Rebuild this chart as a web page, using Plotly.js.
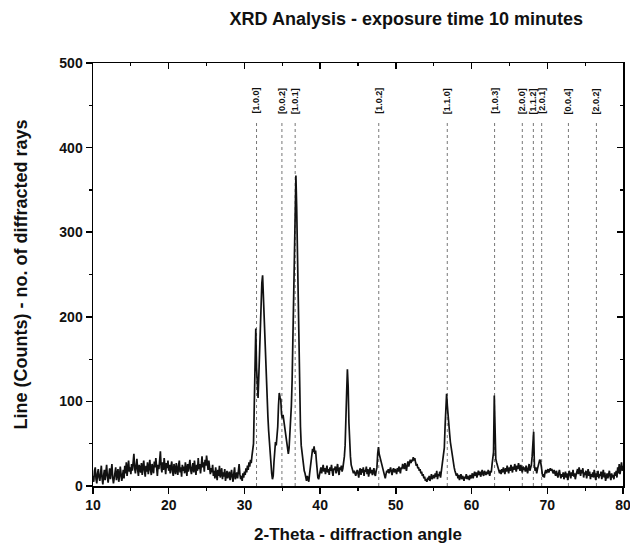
<!DOCTYPE html>
<html>
<head>
<meta charset="utf-8">
<script src="https://cdn.plot.ly/plotly-3.0.1.min.js"></script>
<style>html,body{margin:0;padding:0;background:#fff;}#chart{width:630px;height:552px;}</style>
</head>
<body>
<div id="chart"></div>
<script>
// Scan grid: 2-theta from 10.0 to 80.0 in 0.1 degree steps
var scanStart = 10.0;
var scanStep = 0.1;

// Counts, one row per degree (d.0 ... d.9)
var counts = [
  12, 5, 18, 22, 8, 3, 15, 20, 10, 6,          // 10
  14, 24, 9, 2, 12, 19, 7, 16, 25, 11,         // 11
  4, 13, 21, 8, 17, 26, 10, 3, 9, 18,          // 12
  22, 7, 14, 20, 5, 11, 23, 16, 6, 12,         // 13
  19, 9, 24, 15, 28, 12, 20, 30, 17, 22,       // 14
  14, 26, 18, 29, 38, 21, 15, 24, 32, 19,      // 15
  12, 25, 20, 16, 27, 13, 22, 30, 18, 11,      // 16
  24, 17, 28, 14, 21, 31, 19, 13, 26, 20,      // 17
  15, 29, 22, 33, 18, 12, 25, 20, 30, 41,      // 18
  22, 16, 28, 19, 33, 24, 14, 27, 21, 30,      // 19
  18, 25, 15, 23, 29, 17, 12, 26, 20, 14,      // 20
  27, 19, 13, 24, 30, 16, 22, 11, 25, 18,      // 21
  23, 15, 28, 20, 12, 26, 17, 24, 31, 19,      // 22
  14, 22, 27, 16, 30, 21, 13, 25, 18, 33,      // 23
  20, 26, 15, 24, 35, 22, 28, 17, 31, 24,      // 24
  36, 27, 19, 30, 23, 14, 21, 16, 25, 12,      // 25
  18, 9, 22, 14, 7, 19, 12, 24, 10, 15,        // 26
  21, 8, 16, 11, 20, 6, 14, 18, 9, 13,         // 27
  17, 7, 12, 19, 10, 5, 15, 22, 8, 11,         // 28
  16, 9, 18, 26, 14, 8, 12, 6, 15, 10,         // 29
  17, 13, 21, 16, 24, 19, 28, 23, 31, 27,      // 30
  36, 42, 50, 95, 150, 186, 140, 110, 104, 130,   // 31
  165, 200, 228, 240, 249, 225, 190, 160, 135, 115, // 32
  100, 82, 65, 50, 38, 28, 15, 8, 12, 28,      // 33
  45, 52, 48, 60, 70, 95, 110, 105, 102, 85,   // 34
  80, 84, 78, 72, 66, 60, 55, 46, 38, 45,      // 35
  58, 75, 95, 125, 175, 245, 300, 345, 367, 330, // 36
  270, 200, 140, 105, 70, 48, 38, 28, 22, 18,  // 37
  15, 10, 6, 12, 8, 5, 14, 22, 30, 36,         // 38
  44, 40, 47, 38, 42, 30, 18, 10, 8, 14,       // 39
  18, 22, 15, 20, 25, 17, 21, 14, 19, 24,      // 40
  16, 20, 13, 22, 18, 25, 17, 12, 21, 19,      // 41
  23, 15, 20, 26, 18, 13, 22, 19, 24, 17,      // 42
  21, 26, 35, 48, 70, 110, 138, 118, 75, 48,   // 43
  35, 25, 22, 20, 15, 18, 14, 12, 16, 19,      // 44
  15, 10, 18, 21, 13, 20, 16, 22, 12, 19,      // 45
  17, 23, 14, 20, 11, 18, 22, 15, 19, 13,      // 46
  16, 21, 14, 12, 18, 22, 38, 46, 38, 34,      // 47
  30, 27, 22, 18, 14, 11, 9, 14, 18, 16,       // 48
  20, 15, 18, 22, 17, 13, 19, 21, 16, 20,      // 49
  18, 14, 21, 17, 23, 19, 15, 22, 20, 26,      // 50
  24, 20, 27, 22, 18, 25, 29, 23, 27, 31,      // 51
  27, 31, 29, 34, 30, 33, 28, 24, 26, 21,      // 52
  22, 18, 20, 15, 17, 12, 14, 9, 11, 6,        // 53
  8, 5, 10, 7, 12, 6, 9, 14, 8, 11,            // 54
  13, 9, 15, 11, 18, 8, 14, 12, 17, 10,        // 55
  16, 22, 28, 34, 45, 70, 100, 109, 95, 80,    // 56
  76, 62, 52, 45, 38, 30, 24, 22, 18, 16,      // 57
  12, 15, 9, 13, 7, 11, 14, 8, 12, 10,         // 58
  6, 11, 9, 14, 8, 12, 10, 7, 13, 9,           // 59
  11, 15, 9, 13, 17, 12, 16, 10, 14, 18,       // 60
  13, 17, 11, 15, 19, 14, 12, 18, 16, 13,      // 61
  17, 14, 19, 15, 12, 18, 16, 25, 30, 40,      // 62
  107, 38, 32, 28, 24, 20, 18, 15, 19, 14,     // 63
  20, 16, 22, 18, 14, 21, 17, 24, 19, 15,      // 64
  22, 18, 25, 20, 16, 23, 19, 26, 21, 17,      // 65
  24, 20, 27, 22, 18, 25, 21, 16, 23, 19,      // 66
  22, 17, 24, 20, 15, 21, 26, 18, 22, 25,      // 67
  35, 50, 64, 24, 18, 22, 15, 20, 24, 26,      // 68
  31, 30, 22, 16, 11, 14, 10, 16, 19, 15,      // 69
  17, 20, 16, 19, 21, 18, 20, 17, 15, 19,      // 70
  16, 12, 18, 14, 10, 15, 19, 13, 9, 14,       // 71
  11, 16, 8, 13, 17, 10, 15, 7, 12, 18,        // 72
  14, 9, 16, 12, 19, 11, 15, 8, 13, 17,        // 73
  20, 14, 22, 17, 12, 19, 15, 21, 10, 16,      // 74
  13, 18, 9, 15, 20, 12, 17, 8, 14, 11,        // 75
  16, 10, 19, 13, 7, 15, 11, 18, 9, 14,        // 76
  12, 17, 8, 14, 19, 10, 16, 6, 12, 15,        // 77
  9, 14, 18, 11, 7, 15, 10, 13, 8, 16,         // 78
  12, 18, 10, 22, 15, 26, 14, 20, 28, 18,      // 79
  24                                           // 80.0
];

// Reference reflections (Miller indices) and their 2-theta positions
var peakLabels = ["[1.0.0]", "[0.0.2]", "[1.0.1]", "[1.0.2]", "[1.1.0]", "[1.0.3]",
                  "[2.0.0]", "[1.1.2]", "[2.0.1]", "[0.0.4]", "[2.0.2]"];
var peakPositions = [31.6, 34.95, 36.7, 47.74, 56.79, 63.04, 66.7, 68.16, 69.26, 72.79, 76.49];
var refLineTop = 432;
var labelY = 455;

var twoTheta = counts.map(function (_, i) { return +(scanStart + i * scanStep).toFixed(1); });

var FONT = "Liberation Sans, Arial, sans-serif";

var trace = {
  x: twoTheta, y: counts, type: "scatter", mode: "lines",
  line: { color: "#111", width: 1.7 }, hoverinfo: "x+y", showlegend: false
};

var shapes = peakPositions.map(function (p) {
  return { type: "line", xref: "x", yref: "y", x0: p, x1: p, y0: 0, y1: refLineTop,
           line: { color: "#777", width: 1, dash: "dot" }, layer: "below" };
});
var annotations = peakPositions.map(function (p, i) {
  return { x: p, y: labelY, xref: "x", yref: "y", text: peakLabels[i], textangle: -90,
           showarrow: false, font: { family: FONT, size: 9, color: "#111", weight: "bold" } };
});

var axisCommon = {
  showline: true, linecolor: "#000", linewidth: 1.5, mirror: true,
  showgrid: false, zeroline: false, ticks: "outside", ticklen: 6, tickwidth: 1.5, tickcolor: "#000",
  ticklabeloverflow: "allow",
  tickfont: { family: FONT, size: 14, color: "#111", weight: "bold" }
};

var layout = {
  width: 630, height: 552,
  margin: { l: 93, r: 7, t: 63, b: 66 },
  paper_bgcolor: "#fff", plot_bgcolor: "#fff",
  font: { family: FONT, color: "#111" },
  title: { text: "XRD Analysis - exposure time 10 minutes", xref: "container", x: 0.645, xanchor: "center",
           yref: "container", y: 0.967, yanchor: "middle",
           font: { family: FONT, size: 18, color: "#111", weight: "bold" } },
  xaxis: Object.assign({}, axisCommon, {
    range: [10, 80], dtick: 10, tick0: 10,
    minor: { dtick: 5, ticks: "outside", ticklen: 3, tickwidth: 1.2, tickcolor: "#000" },
    title: { text: "2-Theta - diffraction angle", standoff: 16,
             font: { family: FONT, size: 17, color: "#111", weight: "bold" } }
  }),
  yaxis: Object.assign({}, axisCommon, {
    range: [0, 500], dtick: 100, tick0: 0,
    minor: { dtick: 50, ticks: "outside", ticklen: 3, tickwidth: 1.2, tickcolor: "#000" },
    title: { text: "Line (Counts) - no. of diffracted rays", standoff: 27,
             font: { family: FONT, size: 18, color: "#111", weight: "bold" } }
  }),
  xaxis2: Object.assign({}, axisCommon, {
    overlaying: "x", side: "top", anchor: "y", range: [10, 80], dtick: 10, tick0: 10,
    mirror: false, ticks: "inside", showticklabels: false,
    minor: { dtick: 5, ticks: "inside", ticklen: 3, tickwidth: 1.2, tickcolor: "#000" }
  }),
  yaxis2: Object.assign({}, axisCommon, {
    overlaying: "y", side: "right", anchor: "x", range: [0, 500], dtick: 100, tick0: 0,
    mirror: false, ticks: "inside", showticklabels: false,
    minor: { dtick: 50, ticks: "inside", ticklen: 3, tickwidth: 1.2, tickcolor: "#000" }
  }),
  shapes: shapes,
  annotations: annotations
};

// empty helper traces so that the mirrored top/right axes get drawn
var topHelper = { x: [null], y: [null], xaxis: "x2", yaxis: "y", type: "scatter", mode: "lines", showlegend: false, hoverinfo: "skip" };
var rightHelper = { x: [null], y: [null], xaxis: "x", yaxis: "y2", type: "scatter", mode: "lines", showlegend: false, hoverinfo: "skip" };

Plotly.newPlot("chart", [trace, topHelper, rightHelper], layout, { displayModeBar: false, staticPlot: true });
</script>
</body>
</html>
